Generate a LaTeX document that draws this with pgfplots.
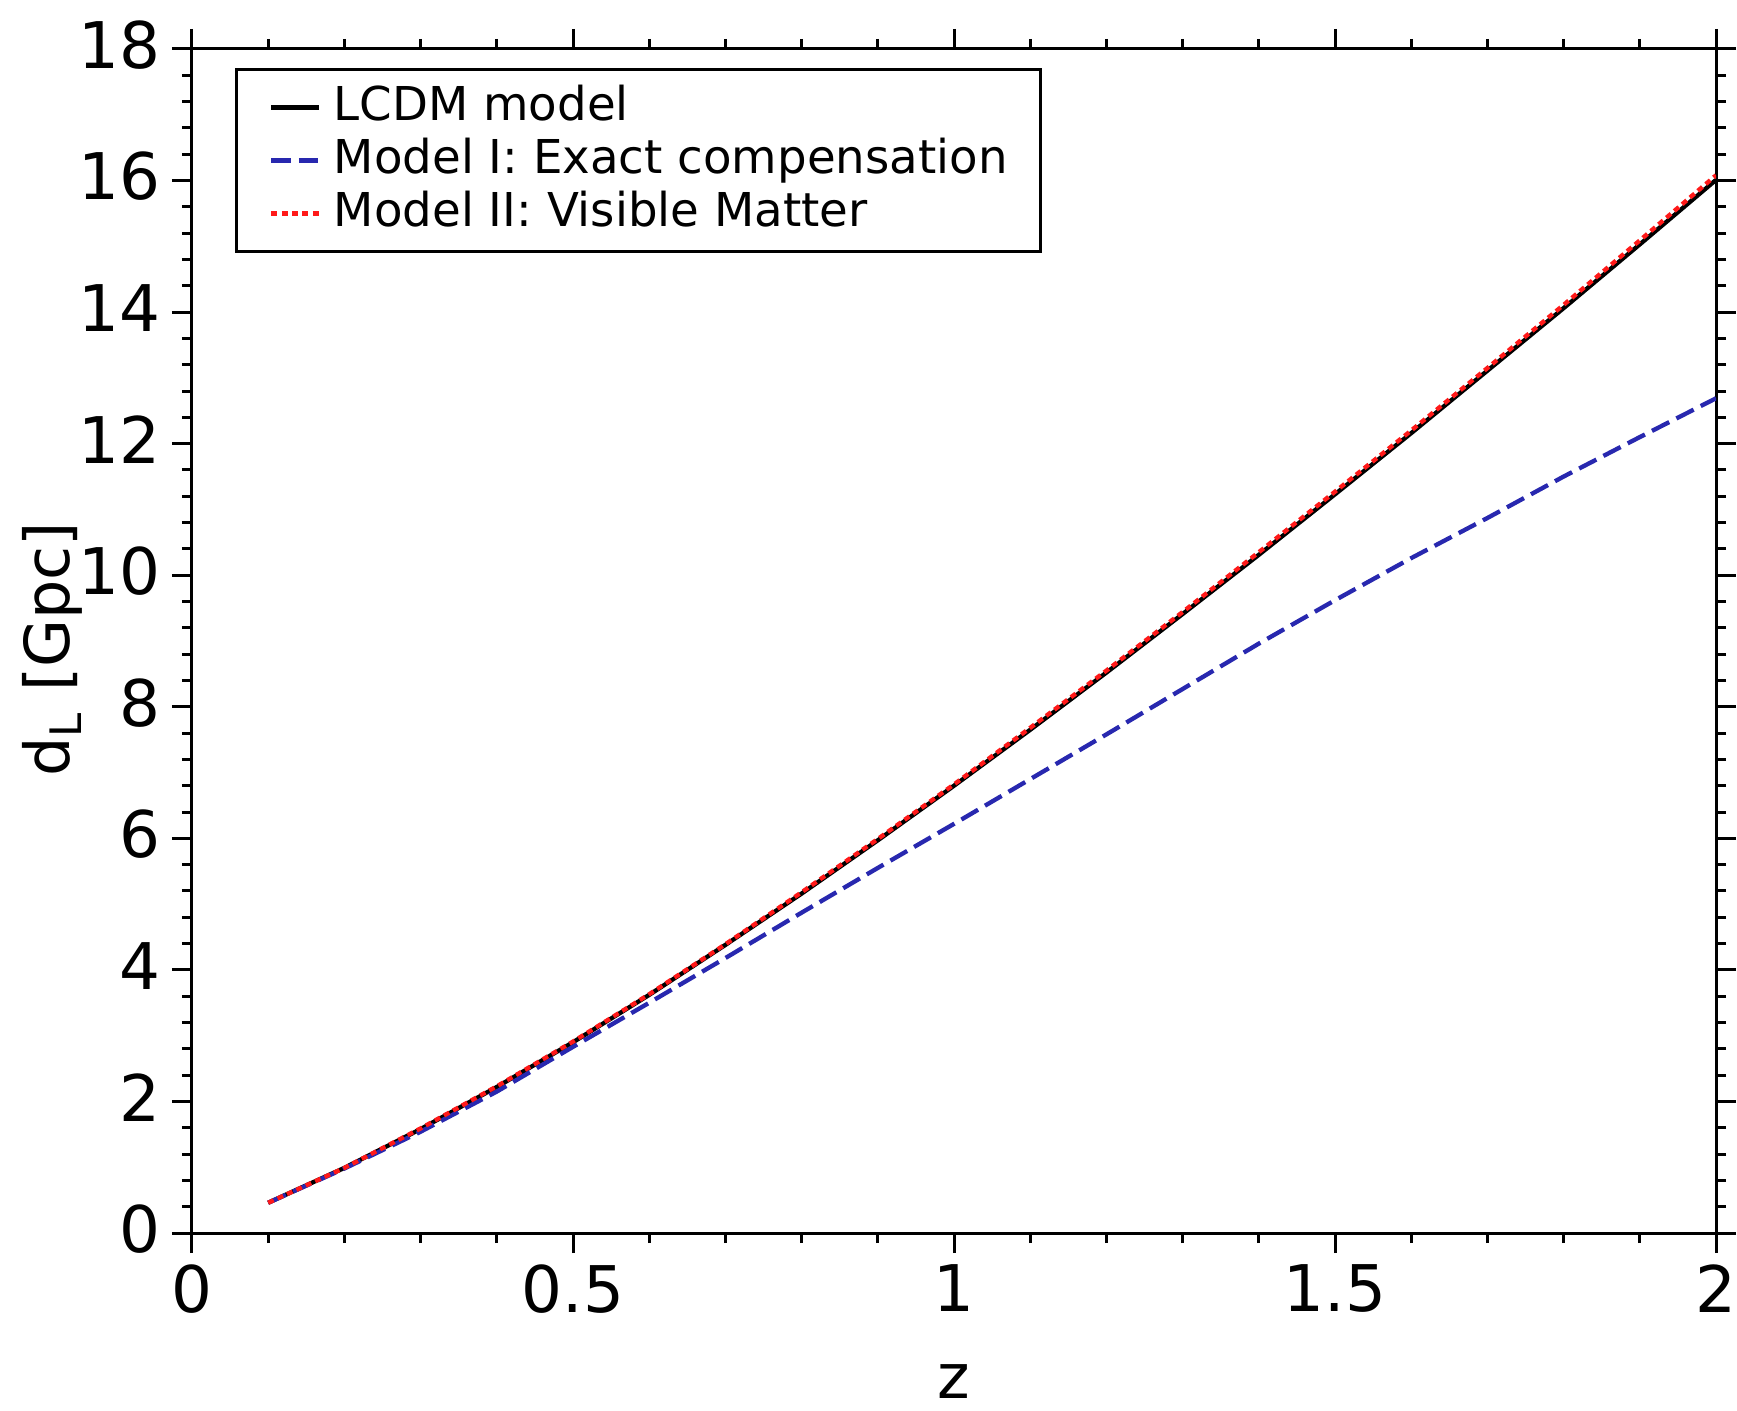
\documentclass[border=0pt]{standalone}
\usepackage{fontspec}
\setmainfont{DejaVu Sans}
\usepackage{pgfplots}
\pgfplotsset{compat=1.18}

\definecolor{modelone}{RGB}{40,40,175}
\definecolor{modeltwo}{RGB}{255,25,25}

\begin{document}
\begin{tikzpicture}
\begin{axis}[
    scale only axis,
    width=457.2pt, height=355.2pt,
    xmin=0, xmax=2, ymin=0, ymax=18,
    xtick={0,0.5,1,1.5,2},
    xticklabels={0,0.5,1,1.5,2},
    ytick={0,2,...,18},
    minor x tick num=4, minor y tick num=4,
    tick align=outside,
    major tick length=6pt, minor tick length=3pt,
    axis line style={line width=0.9pt},
    every tick/.style={black, line width=0.9pt},
    /pgf/number format/assume math mode=true,
    tick label style={font=\fontsize{19.3}{23}\selectfont},
    yticklabel style={yshift=1.2pt},
    xlabel={z},
    ylabel={d\textsubscript{L} [Gpc]},
    every axis x label/.style={at={(axis description cs:0.5,-0.14)}, anchor=base,
        font=\fontsize{18.6}{22}\selectfont},
    every axis y label/.style={at={(axis description cs:-0.0801,0.493)}, rotate=90, anchor=base,
        font=\fontsize{18.6}{22}\selectfont},
    legend cell align=left,
    legend style={at={(axis description cs:0.0282,0.984)}, anchor=north west,
        draw=black, line width=0.8pt, font=\fontsize{14}{16}\selectfont,
        inner xsep=9.9pt, inner ysep=5pt, row sep=3pt, column sep=3.7pt,
        nodes={inner sep=0pt, text height=10.5pt, text depth=2.4pt}},
    legend image code/.code={\draw[#1] (0pt,0pt) -- (14.4pt,0pt);},
]
% LCDM
\addplot[black, line width=1.3pt] coordinates {
    (0.1,0.46) (0.2,0.99) (0.3,1.58) (0.4,2.22) (0.5,2.90) (0.6,3.62) (0.7,4.38)
    (0.8,5.16) (0.9,5.97) (1.0,6.80) (1.1,7.65) (1.2,8.52) (1.3,9.41) (1.4,10.31)
    (1.5,11.23) (1.6,12.16) (1.7,13.11) (1.8,14.06) (1.9,15.03) (2.0,16.01)
};
% model I
\addplot[modelone, line width=1.3pt, dash pattern=on 5.8pt off 2.4pt] coordinates {
    (0.1,0.46) (0.2,0.98) (0.3,1.54) (0.4,2.15) (0.5,2.83) (0.6,3.50) (0.7,4.18)
    (0.8,4.87) (0.9,5.55) (1.0,6.22) (1.1,6.90) (1.2,7.58) (1.3,8.27) (1.4,8.96)
    (1.5,9.62) (1.6,10.26) (1.7,10.87) (1.8,11.50) (1.9,12.10) (2.0,12.69)
};
% model II
\addplot[modeltwo, line width=1.3pt, dash pattern=on 1.8pt off 1.3pt] coordinates {
    (0.1,0.46) (0.2,0.99) (0.3,1.59) (0.4,2.23) (0.5,2.91) (0.6,3.63) (0.7,4.39)
    (0.8,5.18) (0.9,5.99) (1.0,6.82) (1.1,7.68) (1.2,8.55) (1.3,9.44) (1.4,10.35)
    (1.5,11.27) (1.6,12.20) (1.7,13.15) (1.8,14.11) (1.9,15.09) (2.0,16.08)
};
\legend{LCDM model, Model I: Exact compensation, Model II: Visible Matter}
\coordinate (bl) at (rel axis cs:0,0);
\coordinate (tr) at (rel axis cs:1,1);
\end{axis}
\pgfresetboundingbox
\path[use as bounding box] ([xshift=-57.6pt,yshift=-53.1pt]bl) rectangle ([xshift=6.3pt,yshift=14.7pt]tr);
\end{tikzpicture}
\end{document}
